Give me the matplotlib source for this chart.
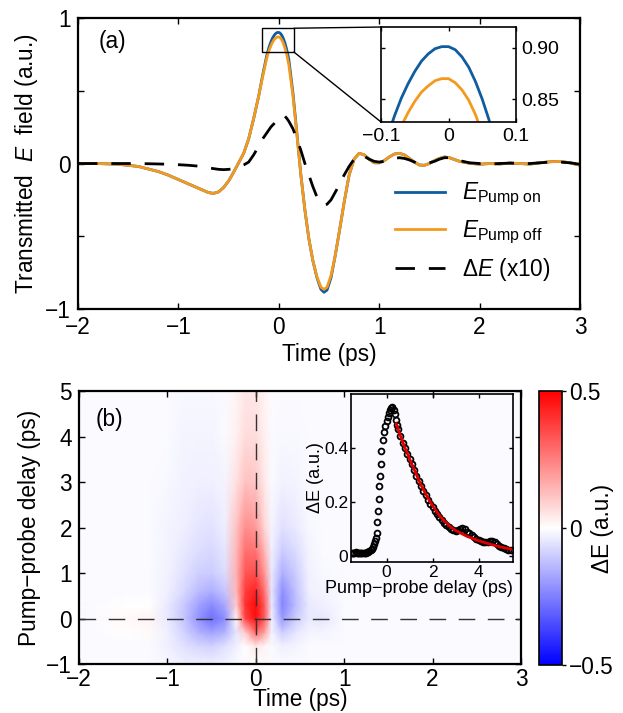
import numpy as np
import matplotlib
matplotlib.use('Agg')  # no display
import matplotlib.pyplot as plt
from matplotlib.patches import Rectangle, ConnectionPatch

plt.rcParams['font.family'] = ['Liberation Sans', 'DejaVu Sans']
plt.rcParams['mathtext.fontset'] = 'custom'
plt.rcParams['mathtext.rm'] = 'Liberation Sans'
plt.rcParams['mathtext.it'] = 'Liberation Sans:italic'
plt.rcParams['mathtext.bf'] = 'Liberation Sans:bold'

# --- panel (a): transmitted THz field ---
time_a = [-2.0, -1.8, -1.6, -1.4, -1.2, -1.1, -1.0, -0.9, -0.8, -0.7,
          -0.65, -0.6, -0.55, -0.5, -0.45, -0.4, -0.35, -0.3, -0.25, -0.2,
          -0.16, -0.12, -0.11, -0.10, -0.09, -0.08, -0.07, -0.06, -0.05, -0.04,
          -0.03, -0.02, -0.01, 0.0, 0.01, 0.02, 0.03, 0.04, 0.05, 0.06,
          0.07, 0.08, 0.09, 0.10, 0.14, 0.18, 0.22, 0.26, 0.30, 0.34,
          0.38, 0.42, 0.45, 0.48, 0.52, 0.56, 0.60, 0.65, 0.70, 0.75,
          0.80, 0.85, 0.90, 0.95, 1.0, 1.05, 1.1, 1.15, 1.2, 1.25,
          1.3, 1.35, 1.4, 1.45, 1.5, 1.55, 1.6, 1.65, 1.7, 1.8,
          1.9, 2.0, 2.1, 2.2, 2.3, 2.4, 2.5, 2.6, 2.7, 2.8,
          2.9, 3.0]
e_pump_off = [0.0, 0.0, -0.005, -0.02, -0.055, -0.08, -0.11, -0.14, -0.17, -0.2,
              -0.205, -0.195, -0.165, -0.12, -0.06, 0.005, 0.07, 0.17, 0.31, 0.465,
              0.6, 0.725, 0.749, 0.771, 0.79, 0.808, 0.824, 0.837, 0.848, 0.857,
              0.863, 0.868, 0.870, 0.870, 0.866, 0.859, 0.849, 0.835, 0.817, 0.796,
              0.772, 0.744, 0.712, 0.678, 0.47, 0.2, -0.08, -0.32, -0.52, -0.67,
              -0.78, -0.85, -0.865, -0.85, -0.77, -0.64, -0.48, -0.27, -0.08, 0.03,
              0.07, 0.06, 0.03, 0.005, 0.005, 0.02, 0.045, 0.065, 0.07, 0.06,
              0.035, 0.01, -0.01, -0.012, 0.0, 0.02, 0.035, 0.045, 0.04, 0.015,
              0.002, -0.005, 0.0, -0.003, 0.003, 0.0, -0.004, 0.005, 0.012, 0.015,
              0.005, -0.012]
e_pump_on = [0.0, 0.0, -0.005, -0.02, -0.055, -0.08, -0.11, -0.14, -0.17, -0.2,
             -0.205, -0.195, -0.165, -0.12, -0.06, 0.005, 0.07, 0.17, 0.31, 0.465,
             0.61, 0.743, 0.769, 0.793, 0.815, 0.834, 0.851, 0.865, 0.877, 0.887,
             0.894, 0.899, 0.901, 0.901, 0.898, 0.891, 0.881, 0.867, 0.850, 0.830,
             0.806, 0.779, 0.748, 0.714, 0.49, 0.21, -0.08, -0.32, -0.52, -0.67,
             -0.785, -0.865, -0.885, -0.87, -0.785, -0.64, -0.48, -0.27, -0.08, 0.03,
             0.07, 0.06, 0.03, 0.005, 0.005, 0.02, 0.045, 0.065, 0.07, 0.06,
             0.035, 0.01, -0.01, -0.012, 0.0, 0.02, 0.035, 0.045, 0.04, 0.015,
             0.002, -0.005, 0.0, -0.003, 0.003, 0.0, -0.004, 0.005, 0.012, 0.015,
             0.005, -0.012]
delta_e_x10 = [0.0, 0.0, 0.0, 0.0, -0.003, -0.005, -0.008, -0.012, -0.018, -0.03,
               -0.035, -0.04, -0.042, -0.04, -0.035, -0.025, -0.01, 0.01, 0.06, 0.12,
               0.17, 0.21, 0.22, 0.23, 0.24, 0.25, 0.258, 0.265, 0.272, 0.28,
               0.29, 0.30, 0.308, 0.315, 0.32, 0.325, 0.328, 0.33, 0.328, 0.325,
               0.318, 0.31, 0.30, 0.29, 0.24, 0.17, 0.09, 0.0, -0.08, -0.16,
               -0.23, -0.275, -0.285, -0.28, -0.25, -0.2, -0.15, -0.08, -0.02, 0.03,
               0.055, 0.05, 0.03, 0.015, 0.01, 0.015, 0.025, 0.035, 0.04, 0.035,
               0.025, 0.01, 0.0, 0.0, 0.005, 0.015, 0.03, 0.04, 0.04, 0.02,
               0.005, 0.0, -0.003, 0.0, 0.003, 0.0, 0.0, 0.005, 0.01, 0.01,
               0.005, -0.005]

# --- panel (b): pump-probe map (rows = delay, cols = time) ---
map_time = [-2.0, -1.5, -1.2, -1.0, -0.8, -0.65, -0.5, -0.35, -0.22, -0.12, 0.0,
            0.1, 0.18, 0.3, 0.45, 0.6, 0.75, 1.0, 1.5, 2.0, 3.0]
map_delay = [-1.0, -0.6, -0.3, 0.0, 0.3, 0.6, 1.0, 1.5, 2.0, 3.0, 4.0, 5.0]
map_de = [
    [-0.01, -0.01, -0.01, -0.015, -0.03, -0.03, -0.03, -0.02, -0.01, -0.01, 0.0, -0.01, -0.01, -0.01, -0.01, -0.01, -0.01, -0.01, -0.01, -0.01, -0.01],
    [-0.01, -0.01, -0.01, -0.03, -0.06, -0.08, -0.09, -0.06, -0.03, 0.0, 0.05, 0.02, -0.01, -0.03, -0.02, -0.01, -0.01, -0.01, -0.01, -0.01, -0.01],
    [-0.01, 0.0, 0.01, -0.03, -0.09, -0.15, -0.18, -0.15, -0.05, 0.1, 0.3, 0.18, -0.02, -0.1, -0.05, -0.02, -0.02, -0.01, -0.01, -0.01, -0.01],
    [-0.01, 0.01, 0.02, -0.04, -0.12, -0.21, -0.28, -0.22, 0.02, 0.36, 0.47, 0.32, -0.03, -0.2, -0.1, -0.04, -0.05, -0.01, -0.01, -0.01, -0.01],
    [-0.01, 0.0, 0.0, -0.04, -0.11, -0.18, -0.23, -0.17, 0.1, 0.4, 0.48, 0.32, -0.04, -0.24, -0.13, -0.04, -0.03, -0.01, -0.01, -0.01, -0.01],
    [-0.01, -0.01, -0.01, -0.03, -0.08, -0.13, -0.16, -0.11, 0.14, 0.38, 0.43, 0.27, -0.05, -0.22, -0.12, -0.03, -0.02, -0.01, -0.01, -0.01, -0.01],
    [-0.01, -0.01, -0.01, -0.025, -0.06, -0.09, -0.1, -0.07, 0.15, 0.33, 0.35, 0.2, -0.04, -0.16, -0.1, -0.025, -0.015, -0.01, -0.01, -0.01, -0.01],
    [-0.01, -0.01, -0.01, -0.02, -0.045, -0.065, -0.075, -0.05, 0.14, 0.28, 0.27, 0.14, -0.03, -0.1, -0.07, -0.02, -0.01, -0.01, -0.01, -0.01, -0.01],
    [-0.01, -0.01, -0.01, -0.02, -0.035, -0.05, -0.055, -0.035, 0.12, 0.22, 0.2, 0.08, -0.02, -0.06, -0.04, -0.015, -0.01, -0.01, -0.01, -0.01, -0.01],
    [-0.01, -0.01, -0.01, -0.015, -0.025, -0.03, -0.03, -0.02, 0.06, 0.12, 0.11, 0.04, -0.01, -0.025, -0.02, -0.01, -0.01, -0.01, -0.01, -0.01, -0.01],
    [-0.01, -0.01, -0.01, -0.01, -0.02, -0.02, -0.02, -0.01, 0.03, 0.07, 0.07, 0.03, -0.01, -0.015, -0.015, -0.01, -0.01, -0.01, -0.01, -0.01, -0.01],
    [-0.01, -0.01, -0.01, -0.01, -0.015, -0.015, -0.015, -0.01, 0.02, 0.05, 0.05, 0.02, -0.005, -0.01, -0.01, -0.01, -0.01, -0.01, -0.01, -0.01, -0.01],
]

# inset of (b): peak dE vs pump-probe delay, with exponential fit
delay_pts = [-1.5, -1.45, -1.4, -1.35, -1.3, -1.25, -1.2, -1.15, -1.1, -1.05,
             -1.0, -0.95, -0.9, -0.85, -0.8, -0.75, -0.7, -0.65, -0.6, -0.55,
             -0.5, -0.46, -0.43, -0.41, -0.38, -0.35, -0.32, -0.29, -0.26, -0.23,
             -0.17, -0.11, -0.05, 0.0, 0.05, 0.1, 0.15, 0.2, 0.25, 0.3,
             0.35, 0.4, 0.45, 0.5, 0.6, 0.7, 0.8, 0.9, 1.0, 1.1,
             1.2, 1.3, 1.4, 1.5, 1.6, 1.7, 1.8, 1.9, 2.0, 2.1,
             2.2, 2.3, 2.4, 2.5, 2.6, 2.7, 2.8, 2.9, 3.0, 3.1,
             3.2, 3.3, 3.4, 3.5, 3.6, 3.7, 3.8, 3.9, 4.0, 4.1,
             4.2, 4.3, 4.4, 4.5, 4.6, 4.7, 4.8, 4.9, 5.0, 5.1,
             5.2, 5.3, 5.4]
de_pts = [0.012, 0.010, 0.011, 0.013, 0.010, 0.009, 0.012, 0.011, 0.010, 0.012,
          0.011, 0.010, 0.012, 0.013, 0.015, 0.018, 0.022, 0.027, 0.033, 0.042,
          0.053, 0.066, 0.083, 0.124, 0.165, 0.211, 0.257, 0.297, 0.34, 0.39,
          0.431, 0.46, 0.48, 0.50, 0.515, 0.53, 0.54, 0.547, 0.55, 0.542,
          0.525, 0.505, 0.485, 0.47, 0.445, 0.42, 0.398, 0.378, 0.36, 0.34,
          0.318, 0.296, 0.276, 0.258, 0.24, 0.224, 0.208, 0.193, 0.18, 0.167,
          0.155, 0.143, 0.132, 0.123, 0.114, 0.106, 0.099, 0.094, 0.092, 0.095,
          0.1, 0.102, 0.098, 0.09, 0.083, 0.077, 0.07, 0.064, 0.06, 0.056,
          0.052, 0.05, 0.051, 0.055, 0.056, 0.05, 0.042, 0.036, 0.032, 0.028,
          0.025, 0.022, 0.022]
fit_delay = [0.42, 0.6, 0.8, 1.0, 1.25, 1.5, 1.75, 2.0, 2.25, 2.5, 2.75, 3.0,
             3.5, 4.0, 4.5, 5.0, 5.4]
fit_de = [0.49, 0.445, 0.4, 0.36, 0.31, 0.262, 0.222, 0.185, 0.155, 0.13, 0.11,
          0.094, 0.072, 0.056, 0.043, 0.032, 0.025]

BLUE = '#0f5c9e'
ORANGE = '#f39a1e'
FS = 16.3      # main labels and ticks
FS_INA = 14    # inset (a) ticks
FS_INB = 13    # inset (b) labels
FS_INB_T = 12.5


def style_axes(ax, fs, spine_w=1.6, tick_len=4):
    ax.tick_params(direction='in', top=True, right=True, length=tick_len,
                   width=1, labelsize=fs, pad=5)
    for sp in ax.spines.values():
        sp.set_linewidth(spine_w)


fig = plt.figure(figsize=(6.23, 7.13), dpi=100)

# ----- (a) -----
ax_a = fig.add_axes([0.1252, 0.5666, 0.8058, 0.4081])
ax_a.plot(time_a, e_pump_on, color=BLUE, lw=2, label=r'$E_{\mathrm{Pump\ on}}$')
ax_a.plot(time_a, e_pump_off, color=ORANGE, lw=2, label=r'$E_{\mathrm{Pump\ off}}$')
ax_a.plot(time_a, delta_e_x10, color='black', lw=2, dashes=(7, 5),
          label=r'$\Delta E$ (x10)')
ax_a.set_xlim(-2, 3)
ax_a.set_ylim(-1, 1)
ax_a.set_xticks([-2, -1, 0, 1, 2, 3])
ax_a.set_yticks([-1, -0.5, 0, 0.5, 1])
ax_a.set_yticklabels(['\u22121', '', '0', '', '1'])
ax_a.set_xlabel('Time (ps)', fontsize=FS, labelpad=3)
ax_a.set_ylabel(r'Transmitted  $E$  field (a.u.)', fontsize=FS, labelpad=4)
style_axes(ax_a, FS)
ax_a.text(0.068, 0.918, '(a)', transform=ax_a.transAxes, fontsize=FS,
          ha='center', va='center')
ax_a.legend(loc='upper left', bbox_to_anchor=(0.631, 0.44), frameon=False,
            fontsize=FS, handlelength=2.2, handletextpad=0.75,
            labelspacing=0.45, borderpad=0, borderaxespad=0)

# zoom box + inset
ax_a.add_patch(Rectangle((-0.167, 0.766), 0.318, 0.164, fill=False,
                         lw=1, ec='black', zorder=5))
ins_a = fig.add_axes([0.6116, 0.8289, 0.2167, 0.1332])
ins_a.plot(time_a, e_pump_on, color=BLUE, lw=2)
ins_a.plot(time_a, e_pump_off, color=ORANGE, lw=2)
ins_a.set_xlim(-0.1, 0.1)
ins_a.set_ylim(0.828, 0.92)
ins_a.set_xticks([-0.1, 0, 0.1])
ins_a.set_xticklabels(['\u22120.1', '0', '0.1'])
ins_a.set_yticks([0.85, 0.90])
ins_a.set_yticklabels(['0.85', '0.90'])
style_axes(ins_a, FS_INA, spine_w=1.2, tick_len=3)
ins_a.tick_params(labelleft=False, labelright=True, pad=4)
for xy_a, xy_b in [((0.151, 0.93), (0, 1)), ((0.151, 0.766), (0, 0))]:
    con = ConnectionPatch(xyA=xy_a, coordsA='data', axesA=ax_a,
                          xyB=xy_b, coordsB='axes fraction', axesB=ins_a,
                          color='black', lw=1)
    fig.add_artist(con)

# ----- (b) -----
ax_b = fig.add_axes([0.1268, 0.0687, 0.7095, 0.3829])
mesh = ax_b.pcolormesh(map_time, map_delay, np.array(map_de), cmap='bwr',
                       vmin=-0.5, vmax=0.5, shading='gouraud')
ax_b.axhline(0, color='#333333', lw=1, dashes=(12, 9))
ax_b.axvline(0, color='#333333', lw=1, dashes=(12, 9))
ax_b.set_xlim(-2, 3)
ax_b.set_ylim(-1, 5)
ax_b.set_xticks([-2, -1, 0, 1, 2, 3])
ax_b.set_yticks([-1, 0, 1, 2, 3, 4, 5])
ax_b.set_ylabel('Pump\u2212probe delay (ps)', fontsize=FS, labelpad=4)
style_axes(ax_b, FS)
ax_b.tick_params(axis='x', pad=3)
ax_b.set_xlabel('Time (ps)', fontsize=FS, labelpad=-2)
ax_b.text(0.068, 0.894, '(b)', transform=ax_b.transAxes, fontsize=FS,
          ha='center', va='center')

cax = fig.add_axes([0.8652, 0.0673, 0.0369, 0.3843])
cb = fig.colorbar(mesh, cax=cax, ticks=[-0.5, 0, 0.5])
cb.ax.set_yticklabels(['\u22120.5', '0', '0.5'])
cb.ax.tick_params(labelsize=FS, length=3, width=1, pad=2)
cb.outline.set_linewidth(1.2)
fig.text(603 / 623, 1 - 528 / 713, '\u0394E (a.u.)', rotation=90,
         ha='center', va='center', fontsize=FS)

ins_b = fig.add_axes([0.5634, 0.2118, 0.26, 0.2356])
ins_b.set_facecolor('none')
ins_b.plot(delay_pts, de_pts, 'o', ms=4.2, mfc='none', mec='black', mew=1.3)
ins_b.plot(fit_delay, fit_de, color='#e00000', lw=2)
ins_b.set_xlim(-1.55, 5.5)
ins_b.set_ylim(-0.023, 0.6)
ins_b.set_xticks([0, 2, 4])
ins_b.set_yticks([0, 0.2, 0.4])
ins_b.set_yticklabels(['0', '0.2', '0.4'])
ins_b.set_xlabel('Pump\u2212probe delay (ps)', fontsize=FS_INB)
ins_b.xaxis.set_label_coords(0.42, -0.105)
ins_b.set_ylabel('\u0394E (a.u.)', fontsize=FS_INB, labelpad=0)
style_axes(ins_b, FS_INB_T, spine_w=1.2, tick_len=3)
ins_b.tick_params(pad=2)

fig.savefig('out.png', dpi=100, facecolor='white')
